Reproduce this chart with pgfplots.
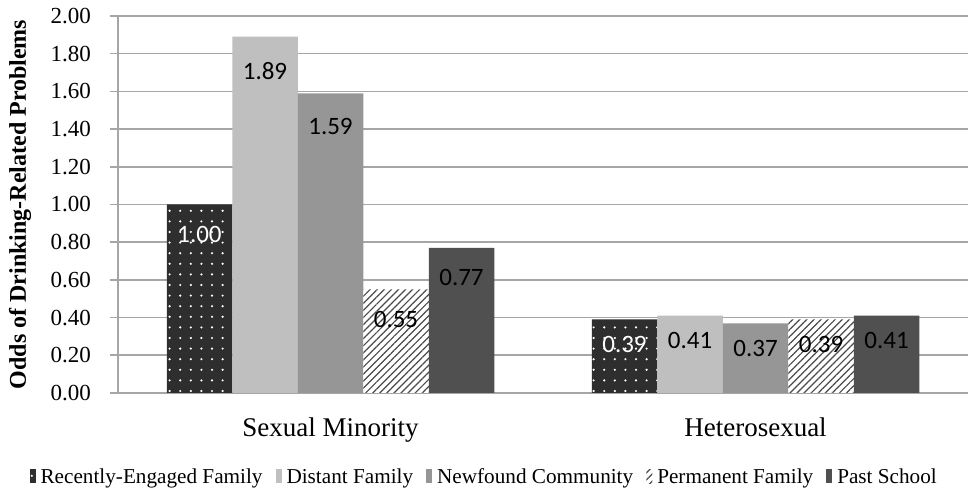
\documentclass[border=0pt]{standalone}
\usepackage{pgfplots}
\pgfplotsset{compat=1.18}
\usepackage{fontspec}
\setmainfont{Liberation Serif}
\newfontfamily\labelfont{Carlito}
\usetikzlibrary{patterns.meta}

\definecolor{dotbar}{HTML}{2E2E2E}
\definecolor{distant}{HTML}{BFBFBF}
\definecolor{newfound}{HTML}{969696}
\definecolor{hatch}{HTML}{4A4A4A}
\definecolor{school}{HTML}{505050}
\definecolor{gridgray}{HTML}{A6A6A6}

\begin{document}
\begin{tikzpicture}
\begin{axis}[
  scale only axis,
  width=425pt, height=188.5pt,
  xmin=-0.5, xmax=1.5,
  ymin=0, ymax=2,
  ytick={0,0.2,0.4,0.6,0.8,1.0,1.2,1.4,1.6,1.8,2.0},
  yticklabel style={/pgf/number format/fixed, /pgf/number format/fixed zerofill,
    /pgf/number format/precision=2, /pgf/number format/assume math mode=true,
    font=\fontsize{11.5}{13}\selectfont, xshift=-6pt},
  xtick={0,1},
  xticklabels={Sexual Minority, Heterosexual},
  xticklabel style={font=\fontsize{13.5}{15}\selectfont, yshift=-5pt},
  x tick style={draw=none},
  extra x ticks={-0.5,0.5,1.5},
  extra x tick labels={},
  extra x tick style={grid=none, major tick length=5pt, tick style={draw=gridgray, line width=0.8pt}},
  axis x line*=bottom, axis y line*=left,
  axis line style={draw=gridgray, line width=0.9pt},
  tick align=outside,
  major tick length=4pt,
  y tick style={draw=gridgray, line width=0.8pt},
  ymajorgrids,
  grid style={draw=gridgray, line width=0.8pt},
  ylabel={\bfseries Odds of Drinking-Related Problems},
  ylabel style={font=\fontsize{12}{14}\selectfont, at={(axis description cs:-0.1153,0.5)}, anchor=center},
  ybar=0pt,
  bar width=32.75pt,
  nodes near coords,
  nodes near coords style={/pgf/number format/fixed, /pgf/number format/fixed zerofill,
    /pgf/number format/precision=2, /pgf/number format/assume math mode=true},
  every node near coord/.append style={font=\labelfont\fontsize{12.5}{14}\selectfont, anchor=center, yshift=-15pt, text=black},
  coordinate style/.condition={x>0.5}{yshift=2.5pt},
  legend columns=-1,
  legend style={at={(0.432,-0.223)}, anchor=center, draw=none, fill=none,
    font=\fontsize{10.6}{12}\selectfont,
    nodes={text height=1.6ex, text depth=0.3ex},
    /tikz/every even column/.append style={column sep=4.5pt},
    /tikz/every odd column/.append style={column sep=0.5pt}},
  legend image code/.code={\draw[#1, draw=none] (0pt,-3pt) rectangle (3pt,4pt);},
]
% Recently-Engaged Family
\addplot+[draw=none, fill=dotbar,
  postaction={pattern={Dots[distance=5.3pt, radius=0.6pt]}, pattern color=white},
  every node near coord/.append style={text=white}]
  coordinates {(0,1.00) (1,0.39)};
% Distant Family
\addplot+[draw=none, fill=distant,
  coordinate style/.condition={y>1.8}{yshift=-2pt}]
  coordinates {(0,1.89) (1,0.41)};
% Newfound Community
\addplot+[draw=none, fill=newfound,
  coordinate style/.condition={y>1.5}{yshift=-1.5pt}]
  coordinates {(0,1.59) (1,0.37)};
% Permanent Family
\addplot+[draw=none, fill=white,
  postaction={pattern={Lines[angle=45, distance=2.5pt, line width=0.6pt]}, pattern color=hatch}]
  coordinates {(0,0.55) (1,0.39)};
% Past School
\addplot+[draw=none, fill=school]
  coordinates {(0,0.77) (1,0.41)};
\legend{Recently-Engaged Family, Distant Family, Newfound Community, Permanent Family, Past School}
\end{axis}
\pgfresetboundingbox
\path ([xshift=-59pt,yshift=-52pt]current axis.south west) rectangle ([xshift=2pt,yshift=8pt]current axis.north east);
\end{tikzpicture}
\end{document}
